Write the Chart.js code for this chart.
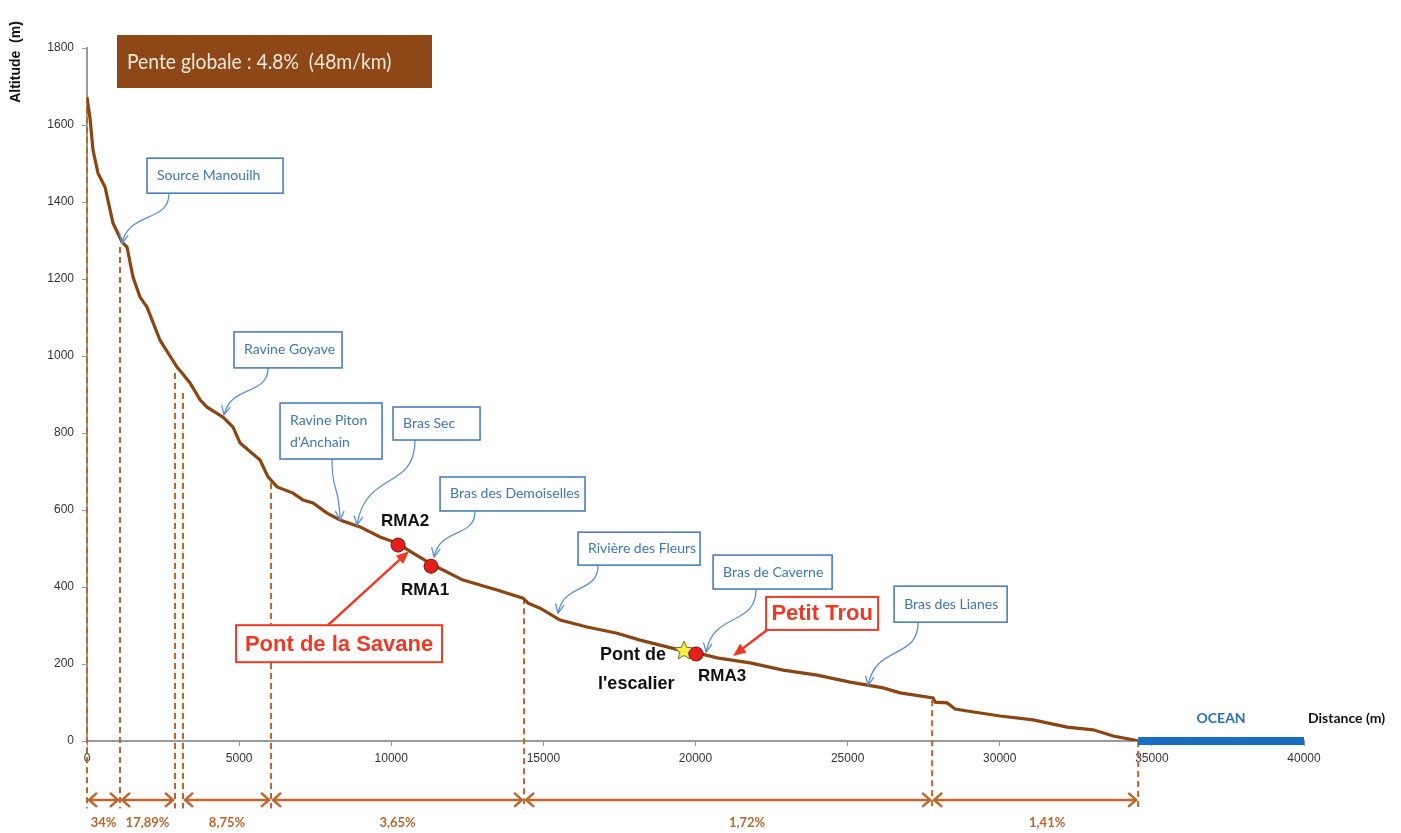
<!DOCTYPE html>
<html>
<head>
<meta charset="utf-8">
<script src="https://cdn.jsdelivr.net/npm/chart.js@4/dist/chart.umd.min.js"></script>
<style>
  body { margin: 0; background: #fff; }
  #wrap { width: 1401px; height: 833px; position: relative; }
</style>
</head>
<body>
<div id="wrap"><canvas id="profil-chart"></canvas></div>
<script>
// profil en long de la riviere (distance depuis la source, altitude)
var distance = [0, 99, 197, 362, 592, 855, 1151, 1315, 1512, 1742, 1972, 2400, 2728, 2959, 3123, 3386,
  3715, 3945, 4471, 4800, 5030, 5687, 5950, 6246, 6772, 7101, 7429, 7890, 8317, 8975, 9632, 10191,
  10717, 11374, 12360, 13478, 14333, 14497, 14892, 15549, 16437, 17423, 18179, 18836, 19494, 20053,
  20710, 21795, 22880, 23997, 25082, 26167, 26726, 27811, 27877, 28271, 28534, 28928, 30013, 31098,
  32216, 33071, 33728, 34385, 34550];
var altitude = [1672, 1618, 1535, 1475, 1439, 1345, 1296, 1283, 1205, 1153, 1127, 1041, 1000, 971, 956, 930,
  886, 867, 841, 815, 774, 730, 686, 660, 644, 626, 618, 592, 574, 556, 530, 514,
  488, 457, 418, 392, 371, 358, 345, 314, 296, 280, 262, 249, 236, 229,
  216, 203, 184, 171, 153, 138, 125, 112, 101, 99, 83, 78, 65, 55,
  36, 29, 13, 3, 0];

// ruptures de pente
var breakDist = [0, 1085, 2893, 3156, 6049, 14366, 27778, 34550];
var breakAlt = [1672, 1283, 956, 904, 670, 371, 106, 0];
var segFrom = [0, 1, 3, 4, 5, 6];
var segTo = [1, 2, 4, 5, 6, 7];
var segSlope = ['34%', '17,89%', '8,75%', '3,65%', '1,72%', '1,41%'];

// stations
var rmaNames = ['RMA2', 'RMA1', 'RMA3'];
var rmaDist = [10224, 11308, 20020];
var rmaAlt = [509, 454, 226];
var bridgeDist = [19625];
var bridgeAlt = [234];

var oceanDist = [34550, 40000];
var oceanAlt = [0, 0];

var xMax = 40000, xStep = 5000;
var yMax = 1800, yStep = 200;

var CAL = "Lato, 'Liberation Sans', sans-serif";
var ARIAL = "'Liberation Sans', Arial, sans-serif";
var BROWN = '#8b4513';
var DASH = '#b8662e';

// affluents (bulles bleues) : ancrees sur un point du profil
var tributaries = [
  { text: ['Source Manouilh'], at: [1151, 1293], box: [25, -85, 136, 35], from: 22 },
  { text: ['Ravine Goyave'], at: [4504, 847], box: [10, -83, 108, 36], from: 34 },
  { text: ['Ravine Piton', "d'Anchain"], at: [8317, 574], box: [-60, -117, 102, 56], from: 52 },
  { text: ['Bras Sec'], at: [8876, 561], box: [36, -118, 87, 33], from: 22 },
  { text: ['Bras des Demoiselles'], at: [11407, 478], box: [6, -80, 145, 34], from: 35 },
  { text: ['Rivière des Fleurs'], at: [15483, 332], box: [20, -81, 122, 33], from: 20 },
  { text: ['Bras de Caverne'], at: [20348, 231], box: [7, -97, 119, 34], from: 43 },
  { text: ['Bras des Lianes'], at: [25674, 145], box: [26, -99, 113, 36], from: 24 }
];
var sites = [
  { text: 'Pont de la Savane', at: [10585, 493], box: [-173, 74, 206, 37], from: 92, side: 'top' },
  { text: 'Petit Trou', at: [21236, 221], box: [33, -59, 112, 33], from: 1, side: 'bottom' }
];

// petite etoile jaune pour le pont
function makeStar(r) {
  var c = document.createElement('canvas');
  c.width = c.height = r * 2 + 4;
  var g = c.getContext('2d');
  g.beginPath();
  for (var i = 0; i < 10; i++) {
    var rr = i % 2 === 0 ? r : r * 0.45;
    var a = -Math.PI / 2 + i * Math.PI / 5;
    g.lineTo(r + 2 + rr * Math.cos(a), r + 2 + rr * Math.sin(a));
  }
  g.closePath();
  g.fillStyle = '#f4f04a';
  g.fill();
  g.strokeStyle = '#6b6b20';
  g.lineWidth = 1;
  g.stroke();
  return c;
}

var profile = distance.map(function (d, i) { return { x: d, y: altitude[i] }; });
var dashData = [];
breakDist.forEach(function (d, i) {
  dashData.push({ x: d, y: breakAlt[i] }, { x: d, y: -175 }, { x: d, y: null });
});

function bezierArrow(ctx, sx, sy, tx, ty, color, w) {
  var dy = ty - sy;
  var c1x = sx, c1y = sy + dy * 0.6;
  var c2x = tx + (sx - tx) * 0.15, c2y = sy + dy * 0.35;
  ctx.strokeStyle = color;
  ctx.lineWidth = w;
  ctx.beginPath();
  ctx.moveTo(sx, sy);
  ctx.bezierCurveTo(c1x, c1y, c2x, c2y, tx, ty);
  ctx.stroke();
  var ang = Math.atan2(ty - c2y, tx - c2x);
  ctx.beginPath();
  ctx.moveTo(tx - 10 * Math.cos(ang - 0.45), ty - 10 * Math.sin(ang - 0.45));
  ctx.lineTo(tx, ty);
  ctx.lineTo(tx - 10 * Math.cos(ang + 0.45), ty - 10 * Math.sin(ang + 0.45));
  ctx.stroke();
}

var annotations = {
  id: 'annotations',
  afterDatasetsDraw: function (chart) {
    var ctx = chart.ctx;
    var xs = chart.scales.x, ys = chart.scales.y;
    ctx.save();

    // fleches de pente sous l'axe
    var arrowY = ys.getPixelForValue(-153);
    var labelY = ys.getPixelForValue(-212);
    var labelShift = [0, 0, 0, 0, 19, 12];
    ctx.strokeStyle = '#c0652b';
    ctx.fillStyle = '#b8662e';
    ctx.lineWidth = 2.5;
    segSlope.forEach(function (lab, i) {
      var x1 = xs.getPixelForValue(breakDist[segFrom[i]]) + 2;
      var x2 = xs.getPixelForValue(breakDist[segTo[i]]) - 2;
      ctx.beginPath();
      ctx.moveTo(x1, arrowY); ctx.lineTo(x2, arrowY);
      ctx.moveTo(x1 + 8, arrowY - 7); ctx.lineTo(x1, arrowY); ctx.lineTo(x1 + 8, arrowY + 7);
      ctx.moveTo(x2 - 8, arrowY - 7); ctx.lineTo(x2, arrowY); ctx.lineTo(x2 - 8, arrowY + 7);
      ctx.stroke();
      ctx.font = 'bold 13px ' + CAL;
      ctx.textAlign = 'center';
      ctx.textBaseline = 'middle';
      ctx.fillText(lab, (x1 + x2) / 2 + labelShift[i], labelY);
    });

    // ocean
    ctx.font = 'bold 14px ' + CAL;
    ctx.fillStyle = '#2a6fc0';
    ctx.fillText('OCEAN', (xs.getPixelForValue(oceanDist[0]) + xs.getPixelForValue(oceanDist[1])) / 2, ys.getPixelForValue(0) - 23);

    // titres des axes
    ctx.fillStyle = '#111';
    ctx.textAlign = 'left';
    ctx.fillText('Distance (m)', xs.getPixelForValue(xMax) + 4, ys.getPixelForValue(0) - 23);
    ctx.save();
    ctx.translate(16, 62);
    ctx.rotate(-Math.PI / 2);
    ctx.textAlign = 'center';
    ctx.font = 'bold 14px ' + ARIAL;
    ctx.fillText('Altitude  (m)', 0, 0);
    ctx.restore();

    // pente globale
    var pL = xs.getPixelForValue(0) + 30, pT = ys.getPixelForValue(yMax) - 13;
    ctx.fillStyle = '#8e4716';
    ctx.fillRect(pL, pT, 315, 53);
    ctx.save();
    ctx.translate(pL + 10, pT + 27);
    ctx.scale(0.92, 1);
    ctx.fillStyle = '#f6e9dc';
    ctx.font = '21px ' + CAL;
    ctx.textAlign = 'left';
    ctx.fillText('Pente globale : 4.8%  (48m/km)', 0, 0);
    ctx.restore();

    // affluents
    tributaries.forEach(function (t) {
      var tx = xs.getPixelForValue(t.at[0]), ty = ys.getPixelForValue(t.at[1]);
      var bx = tx + t.box[0], by = ty + t.box[1], bw = t.box[2], bh = t.box[3];
      bezierArrow(ctx, bx + t.from, by + bh, tx, ty, '#5b8fd0', 1.3);
      ctx.fillStyle = '#fff';
      ctx.fillRect(bx, by, bw, bh);
      ctx.strokeStyle = '#4a7ebb';
      ctx.lineWidth = 1.6;
      ctx.strokeRect(bx, by, bw, bh);
      ctx.fillStyle = '#3f74b8';
      ctx.font = '14px ' + CAL;
      ctx.textAlign = 'left';
      var n = t.text.length;
      t.text.forEach(function (line, k) {
        ctx.fillText(line, bx + 10, by + bh / 2 + (k - (n - 1) / 2) * 22);
      });
    });

    // sites (bulles rouges)
    sites.forEach(function (s) {
      var tx = xs.getPixelForValue(s.at[0]), ty = ys.getPixelForValue(s.at[1]);
      var bx = tx + s.box[0], by = ty + s.box[1], bw = s.box[2], bh = s.box[3];
      var sx = bx + s.from, sy = s.side === 'top' ? by : by + bh;
      var ang = Math.atan2(ty - sy, tx - sx);
      ctx.strokeStyle = '#ee3a24';
      ctx.fillStyle = '#ee3a24';
      ctx.lineWidth = 2.5;
      ctx.beginPath();
      ctx.moveTo(sx, sy);
      ctx.lineTo(tx - 10 * Math.cos(ang), ty - 10 * Math.sin(ang));
      ctx.stroke();
      ctx.beginPath();
      ctx.moveTo(tx, ty);
      ctx.lineTo(tx - 14 * Math.cos(ang - 0.4), ty - 14 * Math.sin(ang - 0.4));
      ctx.lineTo(tx - 14 * Math.cos(ang + 0.4), ty - 14 * Math.sin(ang + 0.4));
      ctx.closePath();
      ctx.fill();
      ctx.fillStyle = '#fff';
      ctx.fillRect(bx, by, bw, bh);
      ctx.lineWidth = 2;
      ctx.strokeRect(bx, by, bw, bh);
      ctx.fillStyle = '#ee3a24';
      ctx.font = 'bold 22px ' + ARIAL;
      ctx.textAlign = 'center';
      ctx.fillText(s.text, bx + bw / 2, by + bh / 2 + 1);
    });

    // noms des stations
    ctx.fillStyle = '#111';
    ctx.font = 'bold 17px ' + ARIAL;
    ctx.textAlign = 'center';
    var off = [[7, -24], [-6, 24], [26, 22]];
    rmaNames.forEach(function (nm, i) {
      ctx.fillText(nm, xs.getPixelForValue(rmaDist[i]) + off[i][0], ys.getPixelForValue(rmaAlt[i]) + off[i][1]);
    });
    ctx.textAlign = 'left';
    ctx.font = 'bold 18px ' + ARIAL;
    var bxp = xs.getPixelForValue(bridgeDist[0]) - 86, byp = ys.getPixelForValue(bridgeAlt[0]);
    ctx.fillText('Pont de', bxp + 2, byp + 4);
    ctx.fillText("l'escalier", bxp, byp + 33);

    ctx.restore();
  }
};

var ctx = document.getElementById('profil-chart').getContext('2d');
var chart = new Chart(ctx, {
  type: 'line',
  data: {
    datasets: [{
      label: 'RMA',
      data: rmaDist.map(function (d, i) { return { x: d, y: rmaAlt[i] }; }),
      showLine: false,
      pointRadius: 7,
      pointBackgroundColor: '#e5201c',
      pointBorderColor: '#7a1010',
      pointBorderWidth: 1,
      order: 0
    }, {
      label: "Pont de l'escalier",
      data: bridgeDist.map(function (d, i) { return { x: d, y: bridgeAlt[i] }; }),
      showLine: false,
      pointStyle: makeStar(10),
      order: 1
    }, {
      label: 'Profil',
      data: profile,
      borderColor: BROWN,
      borderWidth: 3.2,
      pointRadius: 0,
      fill: false,
      tension: 0,
      order: 2
    }, {
      label: 'Ocean',
      data: oceanDist.map(function (d, i) { return { x: d, y: oceanAlt[i] }; }),
      borderColor: '#1b6dc4',
      borderWidth: 8,
      borderCapStyle: 'butt',
      pointRadius: 0,
      clip: false,
      order: 3
    }, {
      label: 'Ruptures',
      data: dashData,
      borderColor: DASH,
      borderWidth: 2,
      borderDash: [6, 4],
      pointRadius: 0,
      spanGaps: false,
      clip: false,
      order: 4
    }]
  },
  plugins: [annotations],
  options: {
    responsive: true,
    maintainAspectRatio: false,
    animation: false,
    layout: { padding: { top: 48, right: 97, left: 0, bottom: 0 } },
    plugins: {
      legend: { display: false },
      tooltip: { enabled: false }
    },
    scales: {
      x: {
        type: 'linear',
        min: 0,
        max: xMax,
        afterFit: function (scale) { scale.height = 92; },
        grid: { drawOnChartArea: false, color: '#999', tickLength: 5 },
        border: { color: '#9a9a9a', width: 2 },
        ticks: {
          stepSize: xStep,
          color: '#333',
          padding: 5,
          font: { family: ARIAL, size: 12 },
          callback: function (v) { return String(v); }
        }
      },
      y: {
        min: 0,
        max: yMax,
        afterFit: function (scale) { scale.width = 87; },
        grid: { drawOnChartArea: false, color: '#999', tickLength: 5 },
        border: { color: '#9a9a9a', width: 2 },
        ticks: {
          stepSize: yStep,
          color: '#333',
          padding: 8,
          font: { family: ARIAL, size: 12 },
          callback: function (v) { return String(v); }
        }
      }
    }
  }
});
</script>
</body>
</html>
